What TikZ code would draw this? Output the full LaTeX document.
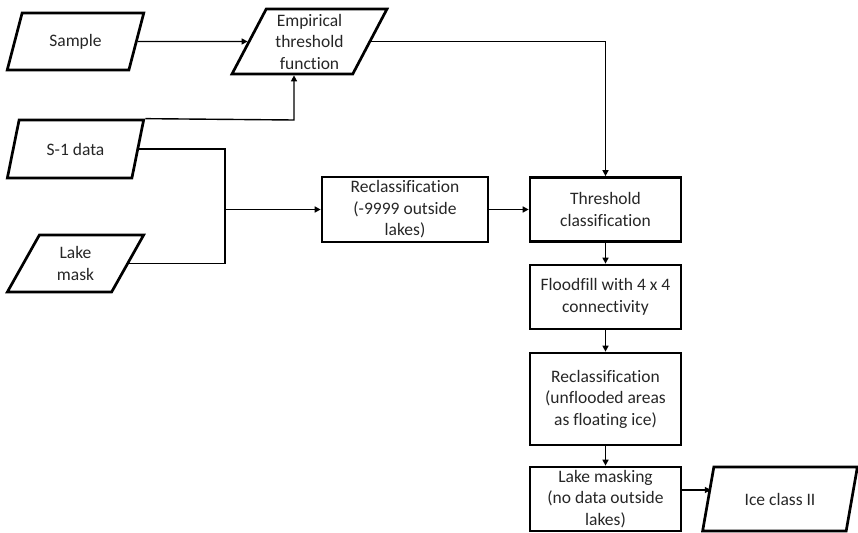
\documentclass[tikz,border=0pt]{standalone}
\usepackage{fontspec}
\setmainfont{Carlito}[Ligatures=NoCommon]
\usetikzlibrary{shapes.geometric,arrows.meta}
\begin{document}
\begin{tikzpicture}[x=1pt,y=-1pt,
  every node/.style={font=\fontsize{17.5}{21.5}\selectfont, text=black!85, align=center, inner sep=0pt},
  procbox/.style={draw, line width=2.7pt, rectangle, minimum width=151pt, minimum height=64pt},
  iobox/.style={draw, line width=2.7pt, trapezium, trapezium left angle=64, trapezium right angle=116,
    trapezium stretches=true, minimum width=137pt, minimum height=57pt},
  conn/.style={line width=1.4pt},
  arr/.style={conn, -{Triangle[length=6pt,width=6pt]}}
]
\useasboundingbox (0,0) rectangle (858,532);

\node[iobox] (sample) at (75.5,41.5) {Sample};
\node[iobox, minimum width=155pt, minimum height=65pt] (emp) at (309.5,41.5) {Empirical\\threshold\\function};
\node[iobox, minimum height=58pt] (s1) at (75.5,149) {S-1 data};
\node[iobox] (lake) at (75.5,263.5) {Lake\\mask};

\node[procbox, minimum width=166pt, minimum height=65pt] (recl1) at (405,209.5) {Reclassification\\(-9999 outside\\lakes)};
\node[procbox] (thr) at (605.5,209.5) {Threshold\\classification};
\node[procbox] (flood) at (605.5,297) {Floodfill with 4 x 4\\connectivity};
\node[procbox, minimum height=92pt] (recl2) at (605.5,399) {Reclassification\\(unflooded areas\\as floating ice)};
\node[procbox] (mask) at (605.5,499) {Lake masking\\(no data outside\\lakes)};
\node[iobox, minimum width=156pt, minimum height=64pt] (ice) at (780,499) {Ice class II};

\coordinate (up) at (294,120);
\coordinate (jn) at (225,209.5);

\draw[arr] (sample.east) -- (emp.west);
\draw[arr] (emp.east) -| (thr.north);
\draw[arr] (s1.top right corner) -- (up) -- (up |- emp.south);
\draw[conn] (s1.east) -| (jn);
\draw[conn] (lake.east) -| (jn);
\draw[arr] (jn) -- (recl1.west);
\draw[arr] (recl1.east) -- (thr.west);
\draw[arr] (thr.south) -- (flood.north);
\draw[arr] (flood.south) -- (recl2.north);
\draw[arr] (recl2.south) -- (mask.north);
\draw[arr] ([yshift=9pt]mask.east) -- ([yshift=9pt,xshift=4pt]mask.east -| ice.west);
\end{tikzpicture}
\end{document}
